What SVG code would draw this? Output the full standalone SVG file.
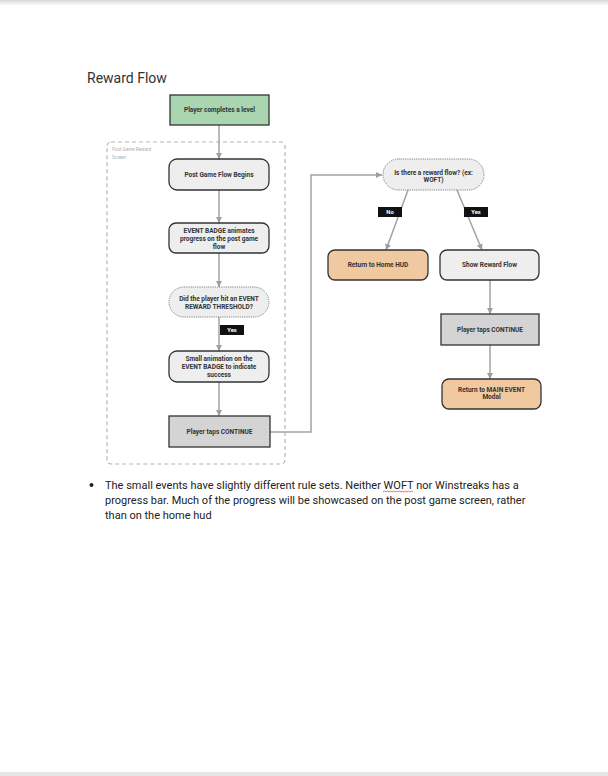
<svg xmlns="http://www.w3.org/2000/svg" width="608" height="776" viewBox="0 0 608 776">
<defs>
<linearGradient id="topShade" x1="0" y1="0" x2="0" y2="1">
<stop offset="0" stop-color="#d8d8d8"/>
<stop offset="1" stop-color="#ffffff"/>
</linearGradient>
<marker id="arr" viewBox="0 0 10 10" refX="10" refY="5" markerWidth="4" markerHeight="4" orient="auto" markerUnits="strokeWidth">
<path d="M0,0 L10,5 L0,10 z" fill="#9e9e9e"/>
</marker>
<style>
.node{stroke:#333;stroke-width:1.3}
.gray{fill:#eeeeee}
.green{fill:#a9d5b1}
.orange{fill:#f0c9a1}
.dark{fill:#d4d4d4}
.dec{fill:#eeeeee;stroke:#777;stroke-width:0.9;stroke-dasharray:1.2 1}
.t{font-family:Roboto,"Liberation Sans",sans-serif;font-size:6.5px;font-weight:bold;fill:#333;text-anchor:middle}
.conn{fill:none;stroke:#a2a2a2;stroke-width:1.5}
.lab{fill:#111}
.lt{font-family:Roboto,"Liberation Sans",sans-serif;font-size:5.8px;font-weight:bold;fill:#fff;text-anchor:middle}
.body{font-family:Roboto,"Liberation Sans",sans-serif;font-size:11px;fill:#222}
</style>
</defs>
<rect x="0" y="0" width="608" height="776" fill="#ffffff"/>
<rect x="0" y="0" width="608" height="6" fill="url(#topShade)"/>
<rect x="0" y="772" width="608" height="4" fill="#e6e6e6"/>

<text x="87" y="83" font-family="Roboto,'Liberation Sans',sans-serif" font-size="14" fill="#333">Reward Flow</text>

<g id="container">
<rect x="107" y="142" width="178" height="322" rx="4" fill="none" stroke="#b5b5b5" stroke-width="1.2" stroke-dasharray="4 3"/>
<text x="112" y="151" font-family="Roboto,'Liberation Sans',sans-serif" font-size="4.6" fill="#b0b0b0">Post Game Reward</text>
<text x="112" y="159" font-family="Roboto,'Liberation Sans',sans-serif" font-size="4.6" fill="#b0b0b0">Screen</text>
</g>

<g id="connectors">
<line class="conn" x1="219" y1="125" x2="219" y2="159" marker-end="url(#arr)"/>
<line class="conn" x1="219" y1="190" x2="219" y2="223" marker-end="url(#arr)"/>
<line class="conn" x1="219" y1="253" x2="219" y2="287" marker-end="url(#arr)"/>
<line class="conn" x1="219" y1="317" x2="219" y2="351" marker-end="url(#arr)"/>
<line class="conn" x1="219" y1="382" x2="219" y2="416" marker-end="url(#arr)"/>
<polyline class="conn" points="270,432 311,432 311,175 382,175" marker-end="url(#arr)"/>
<line class="conn" x1="408" y1="190" x2="386" y2="250" marker-end="url(#arr)"/>
<line class="conn" x1="457" y1="190" x2="482" y2="250" marker-end="url(#arr)"/>
<line class="conn" x1="490" y1="280" x2="490" y2="314" marker-end="url(#arr)"/>
<line class="conn" x1="490" y1="345" x2="490" y2="379" marker-end="url(#arr)"/>
<rect class="lab" x="220" y="325" width="24" height="10"/>
<text class="lt" x="232" y="332">Yes</text>
<rect class="lab" x="378" y="207" width="24" height="10"/>
<text class="lt" x="390" y="214">No</text>
<rect class="lab" x="464" y="207" width="24" height="10"/>
<text class="lt" x="476" y="214">Yes</text>
</g>

<g id="n-level">
<rect class="node green" x="170" y="95" width="99" height="30"/>
<text class="t" x="219.5" y="112.3">Player completes a level</text>
</g>
<g id="n-begin">
<rect class="node gray" x="169" y="159" width="100" height="31" rx="8"/>
<text class="t" x="219" y="176.8">Post Game Flow Begins</text>
</g>
<g id="n-badge">
<rect class="node gray" x="169" y="223" width="100" height="30" rx="7"/>
<text class="t" x="219" y="233.3">EVENT BADGE animates</text>
<text class="t" x="219" y="241.3">progress on the post game</text>
<text class="t" x="219" y="249.3">flow</text>
</g>
<g id="n-threshold">
<rect class="dec" x="169" y="287" width="100" height="30" rx="15"/>
<text class="t" x="219" y="301.3">Did the player hit an EVENT</text>
<text class="t" x="219" y="309.3">REWARD THRESHOLD?</text>
</g>
<g id="n-anim">
<rect class="node gray" x="169" y="351" width="100" height="31" rx="8"/>
<text class="t" x="219" y="361.3">Small animation on the</text>
<text class="t" x="219" y="369.3">EVENT BADGE to indicate</text>
<text class="t" x="219" y="377.3" font-weight="normal">success</text>
</g>
<g id="n-continue1">
<rect class="node dark" x="169" y="416" width="101" height="31"/>
<text class="t" x="219.5" y="433.8">Player taps CONTINUE</text>
</g>
<g id="n-reward">
<rect class="dec" x="383" y="159" width="101" height="31" rx="15.5"/>
<text class="t" x="433.5" y="175.3">Is there a reward flow? (ex:</text>
<text class="t" x="433.5" y="182.3">WOFT)</text>
</g>
<g id="n-home">
<rect class="node orange" x="328" y="250" width="100" height="30" rx="7"/>
<text class="t" x="378" y="267.3">Return to Home HUD</text>
</g>
<g id="n-show">
<rect class="node gray" x="440" y="250" width="99" height="30" rx="7"/>
<text class="t" x="489.5" y="267.3">Show Reward Flow</text>
</g>
<g id="n-continue2">
<rect class="node dark" x="441" y="314" width="98" height="31"/>
<text class="t" x="490" y="331.8">Player taps CONTINUE</text>
</g>
<g id="n-main">
<rect class="node orange" x="442" y="379" width="99" height="30" rx="7"/>
<text class="t" x="491.5" y="392.3">Return to MAIN EVENT</text>
<text class="t" x="491.5" y="399.3">Modal</text>
</g>

<g id="note">
<circle cx="91.5" cy="485" r="2" fill="#222"/>
<text class="body" x="105" y="489">The small events have slightly different rule sets. Neither WOFT nor Winstreaks has a</text>
<text class="body" x="105" y="504">progress bar. Much of the progress will be showcased on the post game screen, rather</text>
<text class="body" x="105" y="519">than on the home hud</text>
<path d="M383,492 l1.5,-1 l1.5,1 l1.5,-1 l1.5,1 l1.5,-1 l1.5,1 l1.5,-1 l1.5,1 l1.5,-1 l1.5,1 l1.5,-1 l1.5,1 l1.5,-1 l1.5,1 l1.5,-1 l1.5,1 l1.5,-1 l1.5,1 l1.5,-1 l1.5,1" fill="none" stroke="#d33" stroke-width="0.7"/>
</g>
</svg>
